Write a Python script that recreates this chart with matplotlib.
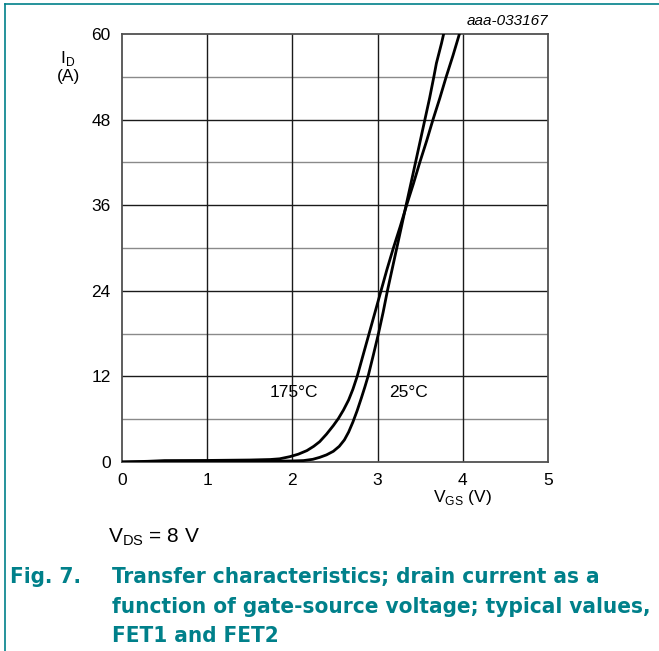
import matplotlib.pyplot as plt
from matplotlib import font_manager
from matplotlib.lines import Line2D

plt.rcParams['font.family'] = ['Liberation Sans', 'DejaVu Sans']

# transfer characteristic
vgs_25 = [0, 0.5, 1.0, 1.5, 1.8, 2.0, 2.13, 2.24, 2.32, 2.4, 2.48, 2.55, 2.61,
          2.66, 2.71, 2.76, 2.81, 2.85, 2.89, 2.95, 3.01, 3.065, 3.115, 3.17,
          3.225, 3.28, 3.34, 3.39, 3.445, 3.5, 3.555, 3.61, 3.66, 3.69, 3.72,
          3.75, 3.775]
id_25 = [0, 0.05, 0.08, 0.1, 0.12, 0.15, 0.2, 0.38, 0.65, 1.0, 1.5, 2.2, 3.1,
         4.2, 5.6, 7.2, 9.0, 10.5, 12.1, 15, 18, 21, 24, 27,
         30, 33, 36.3, 39, 42, 45, 48, 51, 54, 55.9, 57.3,
         58.7, 60]

vgs_175 = [0, 0.3, 0.5, 1.0, 1.5, 1.74, 1.85, 1.97, 2.07, 2.17, 2.25, 2.32,
           2.4, 2.48, 2.54, 2.6, 2.66, 2.71, 2.76, 2.83, 2.9, 2.97, 3.04,
           3.11, 3.185, 3.265, 3.348, 3.42, 3.495, 3.575, 3.65, 3.73, 3.805,
           3.885, 3.96]
id_175 = [0, 0.1, 0.2, 0.22, 0.28, 0.35, 0.45, 0.75, 1.1, 1.6, 2.2, 2.85,
          3.9, 5.1, 6.1, 7.3, 8.7, 10.2, 12, 15, 18, 21, 24,
          27, 30, 33, 36.3, 39, 42, 45, 48, 51, 54,
          57, 60]

x_ticks = [0, 1, 2, 3, 4, 5]
y_ticks = [0, 12, 24, 36, 48, 60]
y_minor = [6, 18, 30, 42, 54]

teal = '#00808a'


def narrow_bold():
    # look for an installed condensed/narrow bold face for the caption
    for f in font_manager.fontManager.ttflist:
        name = f.name.lower()
        cond = f.stretch in ('condensed', 'semi-condensed', 'extra-condensed') \
            or 'narrow' in name or 'condensed' in name
        if cond and f.weight in ('bold', 700) and 'mono' not in name:
            if any(k in name for k in ('liberation', 'noto sans', 'roboto', 'open sans', 'dejavu sans')):
                return font_manager.FontProperties(fname=f.fname), True
    return font_manager.FontProperties(family='Liberation Sans', weight='bold'), False


fig = plt.figure(figsize=(6.59, 6.51), dpi=100)
ax = fig.add_axes([0.1851, 0.2903, 0.6465, 0.6575])

for y in y_minor:
    ax.axhline(y, color='#8a8a8a', lw=1.0, zorder=1)
for y in y_ticks[1:-1]:
    ax.axhline(y, color='#1a1a1a', lw=1.0, zorder=1)
for x in x_ticks[1:-1]:
    ax.axvline(x, color='#1a1a1a', lw=1.0, zorder=1)

ax.plot(vgs_25, id_25, color='black', lw=2.0, solid_joinstyle='round', zorder=3)
ax.plot(vgs_175, id_175, color='black', lw=2.0, solid_joinstyle='round', zorder=3)

ax.set_xlim(0, 5)
ax.set_ylim(0, 60)
ax.set_xticks(x_ticks)
ax.set_yticks(y_ticks)
ax.tick_params(length=0, labelsize=12.5, pad=8)
for s in ax.spines.values():
    s.set_color('#505050')
    s.set_linewidth(1.3)

ax.text(2.02, 9.8, '175°C', fontsize=12.5, ha='center', va='center')
ax.text(3.36, 9.8, '25°C', fontsize=12.5, ha='center', va='center')
ax.text(5.0, 60.8, 'aaa-033167', fontsize=11, style='italic', ha='right', va='bottom')
ax.text(4.0, -5.0, r'V$_{\mathregular{GS}}$ (V)', fontsize=12.5, ha='center', va='center')
fig.text(68 / 659, 1 - 58 / 651, r'I$_{\mathregular{D}}$', fontsize=12.5, ha='center', va='center')
fig.text(68 / 659, 1 - 77 / 651, '(A)', fontsize=12.5, ha='center', va='center')

fig.text(108 / 659, 1 - 537 / 651, r'V$_{\mathregular{DS}}$ = 8 V', fontsize=15, ha='left', va='center')

fp, narrow = narrow_bold()
fp.set_size(16.1 if narrow else 14)
cap = dict(fontproperties=fp, color=teal, va='center')
fig.text(10 / 659, 1 - 577 / 651, 'Fig. 7.', **cap)
fig.text(112 / 659, 1 - 577 / 651, 'Transfer characteristics; drain current as a', **cap)
fig.text(112 / 659, 1 - 607 / 651, 'function of gate-source voltage; typical values,', **cap)
fig.text(112 / 659, 1 - 636 / 651, 'FET1 and FET2', **cap)

# page frame lines (left and top)
fig.add_artist(Line2D([5 / 659, 5 / 659], [0, 1 - 4 / 651], color=teal, lw=1.2))
fig.add_artist(Line2D([5 / 659, 1], [1 - 4 / 651, 1 - 4 / 651], color=teal, lw=1.2))

fig.savefig('out.png', dpi=100)
